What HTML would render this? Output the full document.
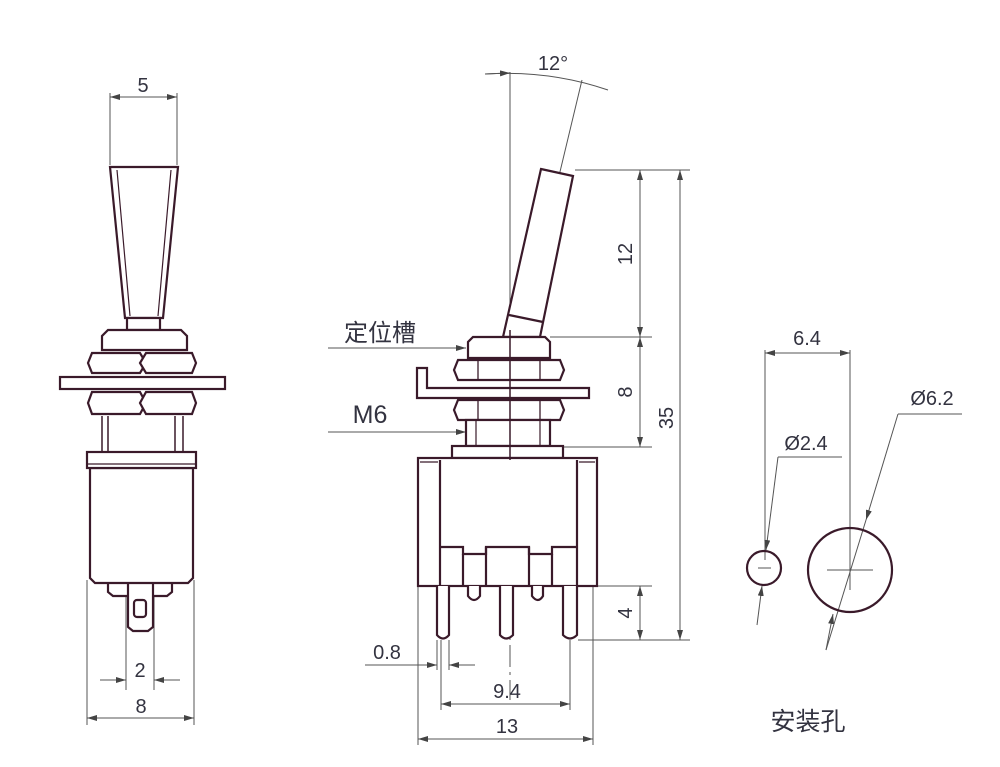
<!DOCTYPE html>
<html><head><meta charset="utf-8"><style>
html,body{margin:0;padding:0;background:#fff;}
svg{display:block;}
text{font-family:"Liberation Sans","Noto Sans CJK SC",sans-serif;fill:#333340;}
</style></head><body>
<svg width="1000" height="767" viewBox="0 0 1000 767" xmlns="http://www.w3.org/2000/svg">
<defs>
<marker id="a" viewBox="0 0 10 6" refX="10" refY="3" markerWidth="10" markerHeight="6" orient="auto-start-reverse" markerUnits="userSpaceOnUse"><path d="M0,0 L10,3 L0,6z" fill="#444"/></marker>
</defs>
<g fill="none" stroke="#555" stroke-width="1">
<line x1="110" y1="93" x2="110" y2="165"/><line x1="177" y1="93" x2="177" y2="165"/>
<line x1="110" y1="97" x2="177" y2="97" marker-start="url(#a)" marker-end="url(#a)"/>
<line x1="126" y1="585" x2="126" y2="690"/><line x1="154" y1="585" x2="154" y2="690"/>
<line x1="100" y1="680" x2="126" y2="680" marker-end="url(#a)"/><line x1="180" y1="680" x2="154" y2="680" marker-end="url(#a)"/>
<line x1="87" y1="580" x2="87" y2="725"/><line x1="194" y1="580" x2="194" y2="725"/>
<line x1="87" y1="718" x2="194" y2="718" marker-start="url(#a)" marker-end="url(#a)"/>
<line x1="510" y1="72" x2="510" y2="330"/>
<line x1="510" y1="330" x2="510" y2="700" stroke-dasharray="22,5,3,5"/>
<path d="M485,74 Q550,70 608,90" />
<line x1="485" y1="74" x2="510" y2="73" marker-end="url(#a)"/>
<line x1="582" y1="80" x2="512" y2="372"/>
<line x1="575" y1="170" x2="690" y2="170"/>
<line x1="550" y1="337" x2="652" y2="337"/>
<line x1="563" y1="447" x2="652" y2="447"/>
<line x1="597" y1="586" x2="652" y2="586"/>
<line x1="578" y1="640" x2="690" y2="640"/>
<line x1="640" y1="170" x2="640" y2="337" marker-start="url(#a)" marker-end="url(#a)"/>
<line x1="640" y1="337" x2="640" y2="447" marker-start="url(#a)" marker-end="url(#a)"/>
<line x1="640" y1="586" x2="640" y2="640" marker-start="url(#a)" marker-end="url(#a)"/>
<line x1="680" y1="170" x2="680" y2="640" marker-start="url(#a)" marker-end="url(#a)"/>
<line x1="328" y1="348" x2="466" y2="348" marker-end="url(#a)"/>
<line x1="328" y1="432" x2="466" y2="432" marker-end="url(#a)"/>
<line x1="437" y1="640" x2="437" y2="670"/><line x1="449" y1="640" x2="449" y2="670"/>
<line x1="365" y1="665" x2="437" y2="665" marker-end="url(#a)"/><line x1="475" y1="665" x2="449" y2="665" marker-end="url(#a)"/>
<line x1="441" y1="640" x2="441" y2="710"/><line x1="570" y1="640" x2="570" y2="710"/>
<line x1="441" y1="704" x2="570" y2="704" marker-start="url(#a)" marker-end="url(#a)"/>
<line x1="418" y1="586" x2="418" y2="745"/><line x1="593" y1="586" x2="593" y2="745"/>
<line x1="418" y1="739" x2="593" y2="739" marker-start="url(#a)" marker-end="url(#a)"/>
<line x1="765" y1="350" x2="765" y2="560"/><line x1="850" y1="350" x2="850" y2="590"/>
<line x1="765" y1="353" x2="850" y2="353" marker-start="url(#a)" marker-end="url(#a)"/>
<line x1="842" y1="457" x2="778" y2="457"/>
<line x1="778" y1="457" x2="766" y2="550" marker-end="url(#a)"/>
<line x1="757" y1="625" x2="762" y2="586" marker-end="url(#a)"/>
<line x1="962" y1="414" x2="898" y2="414"/>
<line x1="898" y1="414" x2="866" y2="520" marker-end="url(#a)"/>
<line x1="866" y1="520" x2="826" y2="650"/>
<line x1="826" y1="650" x2="833" y2="614" marker-end="url(#a)"/>
<line x1="827" y1="570" x2="873" y2="570"/>
<line x1="758" y1="568" x2="771" y2="568"/>
</g>
<g fill="#fff" stroke="#3a1a2a" stroke-width="2.2">
<path d="M110,167 L178,167 L163,318 L125,318 Z"/>
<path d="M117,170 L130,316 M171,170 L158,316" fill="none" stroke-width="1.2"/>
<rect x="127" y="318" width="33" height="12"/>
<path d="M102,350 L102,336 L108,330 L181,330 L187,336 L187,350 Z"/>
<path d="M92,353 L140,353 L146,363 L140,373 L92,373 L88,363 Z"/>
<path d="M146,353 L192,353 L196,363 L192,373 L146,373 L140,363 Z"/>
<rect x="60" y="377" width="165" height="12"/>
<path d="M92,392 L140,392 L146,403 L140,414 L92,414 L88,403 Z"/>
<path d="M146,392 L192,392 L196,403 L192,414 L146,414 L140,403 Z"/>
<path d="M102,416 V452 M108,416 V452 M175,416 V452 M183,416 V452" fill="none" stroke-width="1.5"/>
<path d="M108,583 L108,592 L113,596 L167,596 L172,592 L172,583"/>
<path d="M128,583 L128,627 L133,631 L148,631 L153,627 L153,583"/>
<rect x="134" y="600" width="12" height="17" rx="3"/>
<path d="M90,468 L193,468 L193,578 L188,583 L95,583 L90,578 Z"/>
<rect x="87" y="452" width="109" height="16"/>
<line x1="88" y1="464" x2="195" y2="464" stroke-width="1.2"/>
<path d="M417,368 L427,368 L427,388 L589,388 L589,398 L417,398 Z"/>
<path d="M541,169 L573,176 L540,337 L503,337 Z" />
<line x1="509" y1="315" x2="543" y2="322"/>
<path d="M468,358 L468,342 L473,337 L545,337 L550,342 L550,358 Z"/>
<path d="M458,360 L560,360 L564,370 L560,380 L458,380 L454,370 Z"/>
<path d="M478,360 V380 M540,360 V380" fill="none" stroke-width="1.3"/>
<path d="M458,400 L560,400 L564,410 L560,420 L458,420 L454,410 Z"/>
<path d="M478,400 V420 M540,400 V420" fill="none" stroke-width="1.3"/>
<rect x="466" y="420" width="84" height="26"/>
<path d="M476,420 V446 M540,420 V446" fill="none" stroke-width="1.2"/>
<rect x="452" y="446" width="111" height="12"/>
<rect x="418" y="458" width="179" height="128"/>
<path d="M440,460 V586 M577,460 V586" fill="none"/>
<path d="M420,462 h18 M579,462 h16" fill="none" stroke-width="1.2"/>
<path d="M440,547 H463 V554 H486 V547 H529 V554 H552 V547 H577" fill="none"/>
<path d="M463,554 V586 M486,547 V586 M529,547 V586 M552,554 V586" fill="none"/>
<path d="M437,586 V635 Q443,642 449,635 V586"/>
<path d="M500,586 V635 Q506,642 513,635 V586"/>
<path d="M563,586 V635 Q570,642 577,635 V586"/>
<path d="M468,586 V596 Q474,604 480,596 V586"/>
<path d="M532,586 V596 Q538,604 543,596 V586"/>
<circle cx="764" cy="568" r="17" fill="none"/>
<circle cx="850" cy="570" r="42" fill="none"/>
</g>
<line x1="510" y1="330" x2="510" y2="460" stroke="#3a1a2a" stroke-width="1.5"/>
<g font-size="20">
<text x="143" y="92" text-anchor="middle">5</text>
<text x="140" y="677" text-anchor="middle">2</text>
<text x="141" y="713" text-anchor="middle">8</text>
<text x="553" y="70" text-anchor="middle">12°</text>
<text x="380" y="341" text-anchor="middle" font-size="24">定位槽</text>
<text x="370" y="423" text-anchor="middle" font-size="25">M6</text>
<text x="387" y="659" text-anchor="middle">0.8</text>
<text x="507" y="698" text-anchor="middle">9.4</text>
<text x="507" y="733" text-anchor="middle">13</text>
<text transform="translate(632,254) rotate(-90)" text-anchor="middle">12</text>
<text transform="translate(632,392) rotate(-90)" text-anchor="middle">8</text>
<text transform="translate(632,613) rotate(-90)" text-anchor="middle">4</text>
<text transform="translate(673,418) rotate(-90)" text-anchor="middle">35</text>
<text x="807" y="345" text-anchor="middle">6.4</text>
<text x="806" y="450" text-anchor="middle">Ø2.4</text>
<text x="932" y="405" text-anchor="middle">Ø6.2</text>
<text x="808" y="730" text-anchor="middle" font-size="25">安装孔</text>
</g>
</svg>
</body></html>
